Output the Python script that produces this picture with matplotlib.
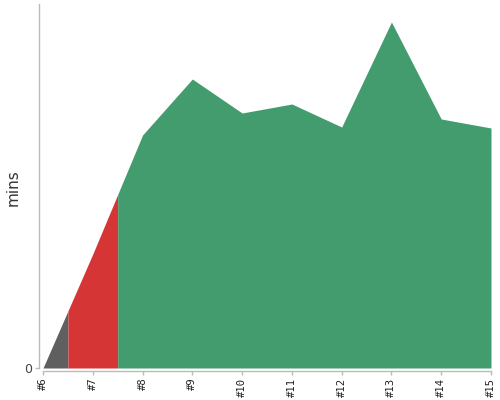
import numpy as np
import matplotlib
matplotlib.use("Agg")
import matplotlib.pyplot as plt

labels = ["#6", "#7", "#8", "#9", "#10", "#11", "#12", "#13", "#14", "#15"]
mins = [0, 11.4, 23.3, 28.9, 25.5, 26.4, 24.1, 34.6, 24.9, 24.0]
# segments: (start, end, color) in category index units
seg_bounds = [0, 0.5, 1.5, 9]
seg_colors = ["#5f5f5f", "#d63536", "#439c6e"]

fig = plt.figure(figsize=(5, 4), dpi=100)
ax = fig.add_axes([0.086, 0.08, 0.896, 0.91])

x = np.arange(len(labels))
y = np.array(mins)
for i, c in enumerate(seg_colors):
    a, b = seg_bounds[i], seg_bounds[i + 1]
    xs = np.concatenate([[a], x[(x > a) & (x < b)], [b]])
    ys = np.interp(xs, x, y)
    ax.fill_between(xs, 0, ys, color=c, linewidth=0)

ax.set_xlim(0, len(labels) - 1)
ax.set_ylim(0, 36.4)
ax.set_xticks(x)
ax.set_xticklabels(labels)
ax.set_yticks([0])
ax.set_yticklabels(["0"])

for s in ["top", "right"]:
    ax.spines[s].set_visible(False)
ax.spines["left"].set_position(("outward", 3))
ax.spines["bottom"].set_position(("outward", 2))
for s in ["left", "bottom"]:
    ax.spines[s].set_color("#bbbbbb")
    ax.spines[s].set_linewidth(1)
ax.tick_params(axis="both", colors="#bbbbbb", length=3, width=1)
ax.tick_params(axis="x", pad=2, labelsize=7.6, labelcolor="#222222", labelrotation=90)
ax.tick_params(axis="y", pad=2, labelsize=9, labelcolor="#444444")
for lbl in ax.get_xticklabels():
    lbl.set_family("DejaVu Sans Mono")
    lbl.set_fontsize(7.6)
    lbl.set_rotation(90)

fig.text(0.026, 0.532, "mins", rotation=90, fontsize=11, color="#333333",
         ha="center", va="center")

fig.savefig("out.png", dpi=100)
